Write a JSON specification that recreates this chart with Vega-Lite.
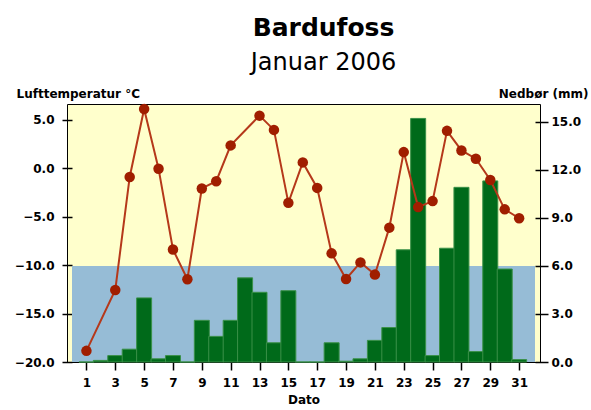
{
  "$schema": "https://vega.github.io/schema/vega-lite/v6.json",
  "width": 473,
  "height": 258,
  "autosize": {"type": "none"},
  "padding": {"left": 67, "top": 104, "right": 51, "bottom": 48},
  "background": "white",
  "title": {
    "text": "Bardufoss",
    "subtitle": "Januar 2006",
    "anchor": "middle",
    "frame": "group",
    "dx": 20,
    "font": "DejaVu Sans",
    "fontSize": 25,
    "fontWeight": "bold",
    "color": "black",
    "subtitleFont": "DejaVu Sans",
    "subtitleFontSize": 24,
    "subtitleColor": "black",
    "subtitlePadding": 10,
    "offset": 12
  },
  "config": {
    "view": {"fill": "#ffffcc", "stroke": "black", "strokeWidth": 1},
    "axis": {
      "labelFont": "DejaVu Sans",
      "labelFontSize": 12,
      "labelFontWeight": "bold",
      "labelColor": "black",
      "titleFont": "DejaVu Sans",
      "titleFontSize": 12,
      "titleFontWeight": "bold",
      "titleColor": "black",
      "tickColor": "black",
      "tickWidth": 1.5,
      "domain": false,
      "grid": false
    }
  },
  "data": {
    "values": [
      {"day": 1, "temp": -18.85, "precip": 0},
      {"day": 2, "temp": null, "precip": 0.1},
      {"day": 3, "temp": -12.57, "precip": 0.4},
      {"day": 4, "temp": -0.92, "precip": 0.8},
      {"day": 5, "temp": 6.08, "precip": 4.0},
      {"day": 6, "temp": -0.07, "precip": 0.2},
      {"day": 7, "temp": -8.4, "precip": 0.4},
      {"day": 8, "temp": -11.47, "precip": 0},
      {"day": 9, "temp": -2.11, "precip": 2.6},
      {"day": 10, "temp": -1.36, "precip": 1.6},
      {"day": 11, "temp": 2.33, "precip": 2.6},
      {"day": 12, "temp": null, "precip": 5.25},
      {"day": 13, "temp": 5.4, "precip": 4.35},
      {"day": 14, "temp": 3.93, "precip": 1.2},
      {"day": 15, "temp": -3.59, "precip": 4.45},
      {"day": 16, "temp": 0.58, "precip": 0},
      {"day": 17, "temp": -2.05, "precip": 0},
      {"day": 18, "temp": -8.8, "precip": 1.2},
      {"day": 19, "temp": -11.44, "precip": 0.05},
      {"day": 20, "temp": -9.73, "precip": 0.2},
      {"day": 21, "temp": -10.99, "precip": 1.35},
      {"day": 22, "temp": -6.15, "precip": 2.15},
      {"day": 23, "temp": 1.64, "precip": 7.0},
      {"day": 24, "temp": -4.03, "precip": 15.2},
      {"day": 25, "temp": -3.41, "precip": 0.4},
      {"day": 26, "temp": 3.83, "precip": 7.1},
      {"day": 27, "temp": 1.81, "precip": 10.9},
      {"day": 28, "temp": 0.96, "precip": 0.65},
      {"day": 29, "temp": -1.23, "precip": 11.3},
      {"day": 30, "temp": -4.26, "precip": 5.8},
      {"day": 31, "temp": -5.18, "precip": 0.15}
    ]
  },
  "encoding": {
    "x": {
      "field": "day",
      "type": "quantitative",
      "scale": {"domain": [0, 32.1], "nice": false, "zero": false},
      "axis": {
        "values": [1, 3, 5, 7, 9, 11, 13, 15, 17, 19, 21, 23, 25, 27, 29, 31],
        "title": "Dato",
        "offset": -5,
        "tickSize": 13,
        "labelPadding": 7,
        "titlePadding": 6
      }
    }
  },
  "layer": [
    {
      "mark": {"type": "rect", "fill": "#96bcd6"},
      "encoding": {
        "x": {"datum": 0},
        "x2": {"datum": 32.1},
        "y": {
          "datum": -20,
          "type": "quantitative",
          "scale": {"domain": [-20, 6.6], "nice": false, "zero": false},
          "axis": {
            "orient": "left",
            "values": [-20, -15, -10, -5, 0, 5],
            "format": ".1f",
            "title": "Lufttemperatur °C",
            "titleAngle": 0,
            "titleAlign": "left",
            "titleBaseline": "alphabetic",
            "titleX": -56,
            "titleY": -7,
            "offset": -5,
            "tickSize": 10,
            "labelPadding": 8
          }
        },
        "y2": {"datum": -10.1}
      }
    },
    {
      "mark": {"type": "bar", "size": 15, "fill": "#006a1a", "stroke": "#3a9048", "strokeWidth": 1},
      "encoding": {
        "y": {
          "field": "precip",
          "type": "quantitative",
          "scale": {"domain": [0, 16.1], "nice": false},
          "axis": {
            "orient": "right",
            "values": [0, 3, 6, 9, 12, 15],
            "format": ".1f",
            "title": "Nedbør (mm)",
            "titleAngle": 0,
            "titleAlign": "right",
            "titleBaseline": "alphabetic",
            "titleX": 53,
            "titleY": -7,
            "offset": -5,
            "tickSize": 13,
            "labelPadding": 3
          }
        }
      }
    },
    {
      "transform": [{"filter": "isValid(datum.temp)"}],
      "mark": {"type": "line", "color": "#b5381a", "strokeWidth": 2},
      "encoding": {
        "y": {
          "field": "temp",
          "type": "quantitative",
          "scale": {"domain": [-20, 6.6], "nice": false, "zero": false},
          "axis": null
        }
      }
    },
    {
      "transform": [{"filter": "isValid(datum.temp)"}],
      "mark": {"type": "point", "shape": "circle", "filled": true, "size": 110, "color": "#a01e00", "opacity": 1},
      "encoding": {
        "y": {
          "field": "temp",
          "type": "quantitative",
          "scale": {"domain": [-20, 6.6], "nice": false, "zero": false},
          "axis": null
        }
      }
    }
  ],
  "resolve": {"scale": {"y": "independent"}}
}
